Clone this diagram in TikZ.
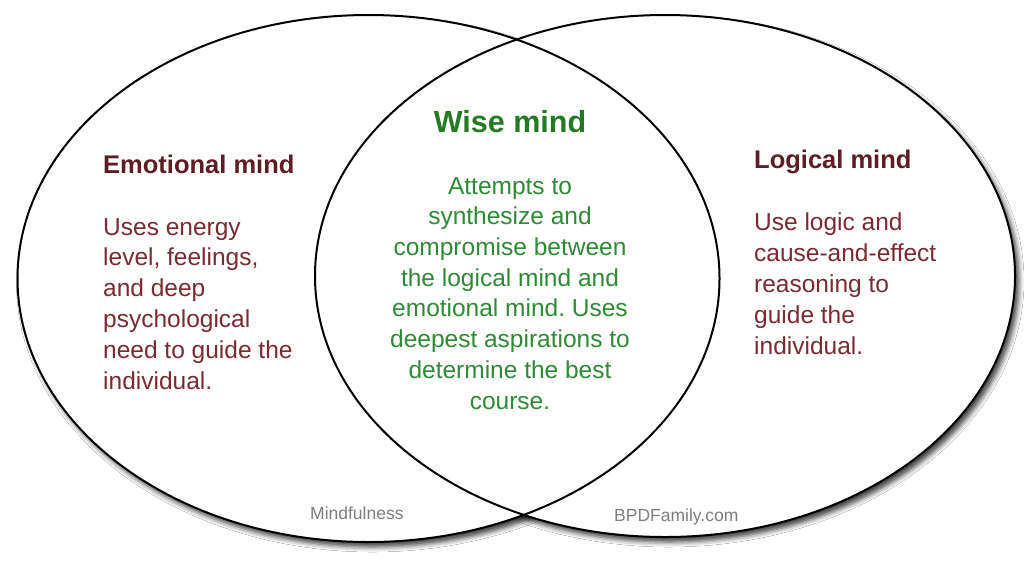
\documentclass[tikz,border=0pt]{standalone}
\usepackage{fontspec}
\setmainfont{Liberation Sans}
\usetikzlibrary{shapes.geometric,shadows.blur}
\definecolor{emotitle}{HTML}{5E1C24}
\definecolor{emobody}{HTML}{7A2A32}
\definecolor{wisetitle}{HTML}{237A23}
\definecolor{wisebody}{HTML}{2F8A36}
\definecolor{creditgrey}{HTML}{7E7E7E}
\frenchspacing
\begin{document}
\begin{tikzpicture}[x=1pt,y=-1pt,
  lens/.style={ellipse, inner sep=0pt, outer sep=0pt, minimum width=#1},
  lensfill/.style={fill=white, blur shadow={shadow xshift=4pt, shadow yshift=-5pt, shadow blur radius=5pt, shadow opacity=75}},
  lensline/.style={draw=black, line width=2pt},
  titletext/.style={inner sep=0pt, font=\bfseries\fontsize{25.5}{31}\selectfont, text=emotitle},
  bodytext/.style={inner sep=0pt, align=left, font=\fontsize{24.5}{30.8}\selectfont, text=emobody},
  wisetitletext/.style={inner sep=0pt, font=\bfseries\fontsize{30.5}{36}\selectfont, text=wisetitle},
  wisebodytext/.style={inner sep=0pt, align=center, font=\fontsize{24.5}{30.7}\selectfont, text=wisebody},
  credit/.style={inner sep=0pt, font=\fontsize{17.5}{20}\selectfont, text=creditgrey}]
\useasboundingbox[fill=white] (0,0) rectangle (1024,574);
% shadows and fills
\node[lens=702pt, minimum height=527pt, lensfill] (emofill) at (368.5,278.5) {};
\node[lens=700pt, minimum height=522pt, lensfill] (logfill) at (665,276) {};
\node[lens=702pt, minimum height=527pt, fill=white] (emofill2) at (368.5,278.5) {};
% outlines
\node[lens=702pt, minimum height=527pt, lensline] (emo) at (368.5,278.5) {};
\node[lens=700pt, minimum height=522pt, lensline] (log) at (665,276) {};
% texts (multi-line nodes: base = baseline of last line)
\node[titletext, anchor=base west] (emot) at (103,173) {Emotional mind};
\node[bodytext, anchor=base west] (emob) at (103,389) {Uses energy\\level, feelings,\\and deep\\psychological\\need to guide the\\individual.};
\node[wisetitletext, anchor=base] (wiset) at (510,132) {Wise mind};
\node[wisebodytext, anchor=base] (wiseb) at (510,409) {Attempts to\\synthesize and\\compromise between\\the logical mind and\\emotional mind. Uses\\deepest aspirations to\\determine the best\\course.};
\node[titletext, anchor=base west] (logt) at (754,168) {Logical mind};
\node[bodytext, anchor=base west] (logb) at (754,354) {Use logic and\\cause-and-effect\\reasoning to\\guide the\\individual.};
\node[credit, anchor=base west] (mf) at (310,519) {Mindfulness};
\node[credit, anchor=base west] (bpd) at (614,521) {BPDFamily.com};
\end{tikzpicture}
\end{document}
